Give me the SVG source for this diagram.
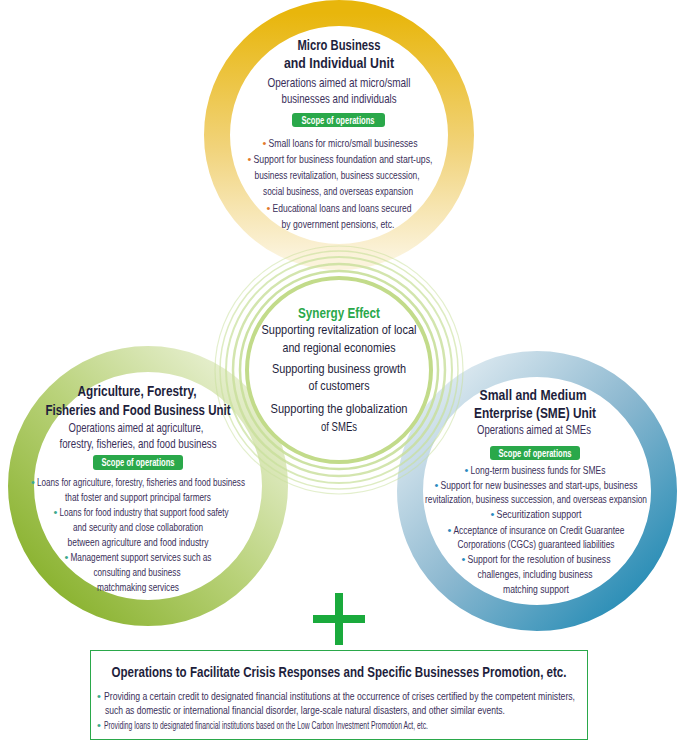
<svg xmlns="http://www.w3.org/2000/svg" width="678" height="742" viewBox="0 0 678 742">
<defs>
<linearGradient id="gTop" x1="0" y1="0" x2="0" y2="1"><stop offset="0" stop-color="#e8b60c"/><stop offset="0.55" stop-color="#f1d37a"/><stop offset="1" stop-color="#fbf3dc"/></linearGradient>
<linearGradient id="gLeft" x1="0" y1="1" x2="1" y2="0"><stop offset="0" stop-color="#7fab1e"/><stop offset="0.5" stop-color="#b9d27a"/><stop offset="1" stop-color="#f3f7e6"/></linearGradient>
<linearGradient id="gRight" x1="1" y1="1" x2="0" y2="0"><stop offset="0" stop-color="#1384b0"/><stop offset="0.5" stop-color="#8cb8d0"/><stop offset="1" stop-color="#f0f5f8"/></linearGradient>
<style>
text{font-family:"Liberation Sans",Arial,sans-serif;text-anchor:middle;fill:#1e1e3c}
.h{font-weight:bold;font-size:15px}
.s{font-size:13px;fill:#3a2f5a}
.b{font-size:11px;fill:#3a2f5a}
.l{text-anchor:start}
.p{font-weight:bold;font-size:10px;fill:#fff}
.pill{fill:#2aa84a}
.c{font-size:13px}
.o,.t,.u{font-size:11px;text-anchor:start}
.o{fill:#e27a2a}.t{fill:#3aa88a}.u{fill:#2a8ac0}
.r{fill:none;stroke:#c8df9a}
</style>
</defs>
<g id="ring-top"><circle cx="339" cy="135" r="122" fill="#fff" stroke="url(#gTop)" stroke-width="26"/></g>
<g id="ring-left"><circle cx="148" cy="486" r="127" fill="#fff" stroke="url(#gLeft)" stroke-width="26"/></g>
<g id="ring-right"><circle cx="537" cy="491" r="127" fill="#fff" stroke="url(#gRight)" stroke-width="26"/></g>
<g id="synergy-rings">
<circle cx="339" cy="370" r="124" class="r" stroke-width="1.2" opacity="0.5"/>
<circle cx="339" cy="370" r="119" class="r" stroke-width="1.5" opacity="0.6"/>
<circle cx="339" cy="370" r="113" class="r" stroke-width="2" opacity="0.7"/>
<circle cx="339" cy="370" r="106" class="r" stroke-width="2.5" opacity="0.8"/>
<circle cx="339" cy="370" r="99" class="r" stroke-width="2.5" opacity="0.9"/>
<circle cx="339" cy="370" r="92" fill="#fff" stroke="#c2db8a" stroke-width="4"/>
</g>
<g id="node-top">
<text x="339" y="50" class="h" textLength="83" lengthAdjust="spacingAndGlyphs">Micro Business</text>
<text x="339" y="68" class="h" textLength="110" lengthAdjust="spacingAndGlyphs">and Individual Unit</text>
<text x="339" y="87" class="s" textLength="143" lengthAdjust="spacingAndGlyphs">Operations aimed at micro/small</text>
<text x="339" y="103" class="s" textLength="115" lengthAdjust="spacingAndGlyphs">businesses and individuals</text>
<rect x="292" y="113" width="93" height="14" rx="3" class="pill"/>
<text x="338" y="124" class="p" textLength="73" lengthAdjust="spacingAndGlyphs">Scope of operations</text>
<text x="262.5" y="147" class="o">•</text><text x="268.5" y="147" class="b l" textLength="149" lengthAdjust="spacingAndGlyphs">Small loans for micro/small businesses</text>
<text x="247.5" y="163" class="o">•</text><text x="253.5" y="163" class="b l" textLength="179" lengthAdjust="spacingAndGlyphs">Support for business foundation and start-ups,</text>
<text x="337" y="179" class="b" textLength="165" lengthAdjust="spacingAndGlyphs">business revitalization, business succession,</text>
<text x="338" y="195" class="b" textLength="150" lengthAdjust="spacingAndGlyphs">social business, and overseas expansion</text>
<text x="266.5" y="212" class="o">•</text><text x="272.5" y="212" class="b l" textLength="139" lengthAdjust="spacingAndGlyphs">Educational loans and loans secured</text>
<text x="338" y="228" class="b" textLength="113" lengthAdjust="spacingAndGlyphs">by government pensions, etc.</text>
</g>
<g id="node-synergy">
<text x="339" y="318" class="h" style="fill:#2aa84a" textLength="82" lengthAdjust="spacingAndGlyphs">Synergy Effect</text>
<text x="339" y="334" class="c" textLength="155" lengthAdjust="spacingAndGlyphs">Supporting revitalization of local</text>
<text x="339" y="352" class="c" textLength="113" lengthAdjust="spacingAndGlyphs">and regional economies</text>
<text x="339" y="373" class="c" textLength="134" lengthAdjust="spacingAndGlyphs">Supporting business growth</text>
<text x="339" y="390" class="c" textLength="61" lengthAdjust="spacingAndGlyphs">of customers</text>
<text x="339" y="413" class="c" textLength="137" lengthAdjust="spacingAndGlyphs">Supporting the globalization</text>
<text x="339" y="431" class="c" textLength="36" lengthAdjust="spacingAndGlyphs">of SMEs</text>
</g>
<g id="node-left">
<text x="137" y="396" class="h" textLength="119" lengthAdjust="spacingAndGlyphs">Agriculture, Forestry,</text>
<text x="138" y="415" class="h" textLength="185" lengthAdjust="spacingAndGlyphs">Fisheries and Food Business Unit</text>
<text x="136" y="432" class="s" textLength="135" lengthAdjust="spacingAndGlyphs">Operations aimed at agriculture,</text>
<text x="138" y="448" class="s" textLength="157" lengthAdjust="spacingAndGlyphs">forestry, fisheries, and food business</text>
<rect x="93" y="455" width="90" height="15" rx="3" class="pill"/>
<text x="138" y="466" class="p" textLength="73" lengthAdjust="spacingAndGlyphs">Scope of operations</text>
<text x="31" y="486" class="t">•</text><text x="37" y="486" class="b l" textLength="208" lengthAdjust="spacingAndGlyphs">Loans for agriculture, forestry, fisheries and food business</text>
<text x="138" y="501" class="b" textLength="146" lengthAdjust="spacingAndGlyphs">that foster and support principal farmers</text>
<text x="53.5" y="516" class="t">•</text><text x="59.5" y="516" class="b l" textLength="169" lengthAdjust="spacingAndGlyphs">Loans for food industry that support food safety</text>
<text x="138" y="531" class="b" textLength="130" lengthAdjust="spacingAndGlyphs">and security and close collaboration</text>
<text x="138" y="546" class="b" textLength="141" lengthAdjust="spacingAndGlyphs">between agriculture and food industry</text>
<text x="64.5" y="561" class="t">•</text><text x="70.5" y="561" class="b l" textLength="141" lengthAdjust="spacingAndGlyphs">Management support services such as</text>
<text x="137" y="576" class="b" textLength="87" lengthAdjust="spacingAndGlyphs">consulting and business</text>
<text x="138" y="591" class="b" textLength="82" lengthAdjust="spacingAndGlyphs">matchmaking services</text>
</g>
<g id="node-right">
<text x="533" y="400" class="h" textLength="107" lengthAdjust="spacingAndGlyphs">Small and Medium</text>
<text x="535" y="418" class="h" textLength="122" lengthAdjust="spacingAndGlyphs">Enterprise (SME) Unit</text>
<text x="534" y="434" class="s" textLength="114" lengthAdjust="spacingAndGlyphs">Operations aimed at SMEs</text>
<rect x="490" y="446" width="90" height="14" rx="3" class="pill"/>
<text x="535" y="457" class="p" textLength="73" lengthAdjust="spacingAndGlyphs">Scope of operations</text>
<text x="464.5" y="474" class="u">•</text><text x="470.5" y="474" class="b l" textLength="135" lengthAdjust="spacingAndGlyphs">Long-term business funds for SMEs</text>
<text x="434.5" y="489" class="u">•</text><text x="440.5" y="489" class="b l" textLength="197" lengthAdjust="spacingAndGlyphs">Support for new businesses and start-ups, business</text>
<text x="536" y="503" class="b" textLength="222" lengthAdjust="spacingAndGlyphs">revitalization, business succession, and overseas expansion</text>
<text x="490.5" y="518" class="u">•</text><text x="496.5" y="518" class="b l" textLength="85" lengthAdjust="spacingAndGlyphs">Securitization support</text>
<text x="447.5" y="534" class="u">•</text><text x="453.5" y="534" class="b l" textLength="171" lengthAdjust="spacingAndGlyphs">Acceptance of insurance on Credit Guarantee</text>
<text x="536" y="548" class="b" textLength="157" lengthAdjust="spacingAndGlyphs">Corporations (CGCs) guaranteed liabilities</text>
<text x="461.5" y="563" class="u">•</text><text x="467.5" y="563" class="b l" textLength="143" lengthAdjust="spacingAndGlyphs">Support for the resolution of business</text>
<text x="535" y="578" class="b" textLength="115" lengthAdjust="spacingAndGlyphs">challenges, including business</text>
<text x="536" y="593" class="b" textLength="66" lengthAdjust="spacingAndGlyphs">matching support</text>
</g>
<g id="plus"><path d="M339 593V645M313 619H365" stroke="#1aaa3c" stroke-width="8" fill="none"/></g>
<g id="node-bottom">
<rect x="90.5" y="650.5" width="497" height="89" fill="#fff" stroke="#2aa84a" stroke-width="1"/>
<text x="339" y="677" class="h" textLength="455" lengthAdjust="spacingAndGlyphs">Operations to Facilitate Crisis Responses and Specific Businesses Promotion, etc.</text>
<text x="97" y="700" class="t">•</text><text x="104" y="700" class="b l" textLength="471" lengthAdjust="spacingAndGlyphs">Providing a certain credit to designated financial institutions at the occurrence of crises certified by the competent ministers,</text>
<text x="105" y="714" class="b l" textLength="400" lengthAdjust="spacingAndGlyphs">such as domestic or international financial disorder, large-scale natural disasters, and other similar events.</text>
<text x="97" y="729" class="t">•</text><text x="104" y="729" class="b l" textLength="324" lengthAdjust="spacingAndGlyphs">Providing loans to designated financial institutions based on the Low Carbon Investment Promotion Act, etc.</text>
</g>
</svg>
